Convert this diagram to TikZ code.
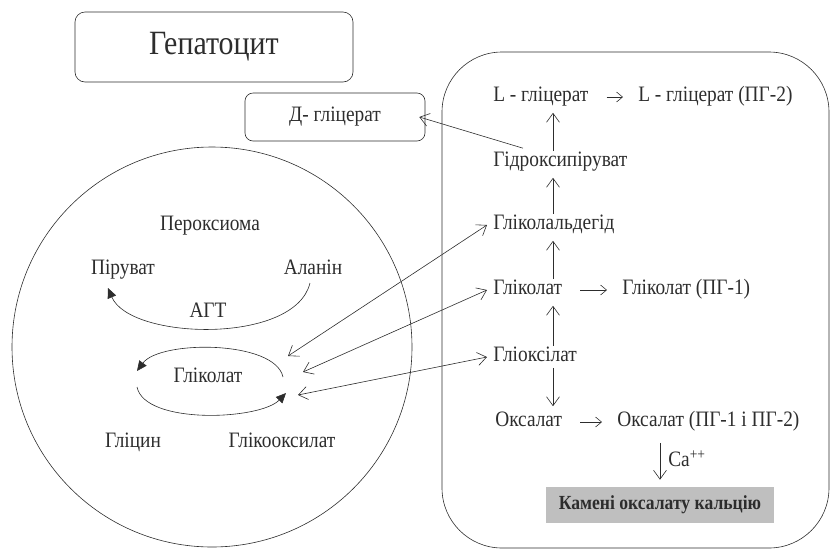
\documentclass[tikz,border=0pt]{standalone}
\usepackage{fontspec}
\setmainfont[FakeStretch=0.88]{Liberation Serif}
\usetikzlibrary{arrows.meta,positioning,calc}
\definecolor{stonegray}{RGB}{191,191,191}
\definecolor{inkgray}{RGB}{45,45,45}

\tikzset{
  lbl/.style={inner sep=0pt,text height=14pt,text depth=5pt,font=\fontsize{22}{24}\selectfont},
  item/.style={lbl,anchor=west},
  barb/.style={-{Straight Barb[length=9pt,width=13pt]}},
  dbarb/.style={{Straight Barb[length=9pt,width=13pt]}-{Straight Barb[length=9pt,width=13pt]}},
  sbarb/.style={-{Straight Barb[length=6pt,width=10pt]},shorten <=18pt,shorten >=15pt},
  vbarb/.style={barb,shorten <=1pt,shorten >=6pt},
  tri/.style={-{Triangle[length=10pt,width=9pt]}},
}

\begin{document}
\begin{tikzpicture}[x=1pt,y=-1pt,line width=0.6pt,draw=inkgray,text=inkgray]
\useasboundingbox (0,0) rectangle (831,550);
% cell, peroxisome and cytosol
\node[draw,rounded corners=10pt,minimum width=278pt,minimum height=70pt,
  font=\fontsize{34}{36}\selectfont] (hep) at (214,47) {Гепатоцит};
\node[draw,rounded corners=8pt,minimum width=180pt,minimum height=48pt,lbl] (dgly) at (335,117) {Д- гліцерат};
\draw[rounded corners=60pt] (442,52) rectangle (829,548);
\draw (212,347) circle[radius=200];

% inside the peroxisome
\node[lbl] (perox) at (210,226) {Пероксиома};
\node[lbl] (pyr) at (123,270) {Піруват};
\node[lbl] (ala) at (313,270) {Аланін};
\node[lbl] (agt) at (208,313) {АГТ};
\node[lbl] (glc) at (208,378) {Гліколат};
\node[lbl] (gly) at (133,443) {Гліцин};
\node[lbl] (gox) at (282,443) {Глікооксилат};
\coordinate (lp1) at (288,356);
\coordinate (lp2) at (303,372);
\coordinate (lp3) at (298,395);

\draw[tri] (310,283) .. controls (295,345) and (130,340) .. (108,288);
\draw[tri] (283,377) .. controls (275,340) and (160,340) .. (137,371);
\draw[tri] (137,387) .. controls (145,425) and (260,420) .. (286,393);

% cytosol pathway
\coordinate (col) at (553,0);
\node[item] (lgly) at (493,97) {L - гліцерат};
\node[item] (lgly2) at (638,97) {L - гліцерат (ПГ-2)};
\node[item] (hpyr) at (493,162) {Гідроксипіруват};
\node[item] (gald) at (493,225) {Гліколальдегід};
\node[item] (glc2) at (493,290) {Гліколат};
\node[item] (glc3) at (622,290) {Гліколат (ПГ-1)};
\node[item] (gxl) at (493,357) {Гліоксілат};
\node[item] (oxa) at (495,422) {Оксалат};
\node[item] (oxa2) at (617,422) {Оксалат (ПГ-1 і ПГ-2)};
\node[fill=stonegray,minimum width=228pt,minimum height=36pt,inner sep=0pt,
  font=\fontsize{20}{22}\selectfont\bfseries] (stone) at (660,505) {Камені оксалату кальцію};

\draw[sbarb] (lgly.east) -- (lgly2.west);
\draw[sbarb] (glc2.east) -- (glc3.west);
\draw[sbarb] (oxa.east) -- (oxa2.west);
\draw[vbarb] (hpyr.north -| col) -- (lgly.south -| col);
\draw[vbarb] (gald.north -| col) -- (hpyr.south -| col);
\draw[vbarb] (glc2.north -| col) -- (gald.south -| col);
\draw[vbarb] (gxl.north -| col) -- (glc2.south -| col);
\draw[vbarb] (gxl.south -| col) -- (oxa.north -| col);
\draw[barb,shorten <=11pt,shorten >=7pt] (oxa2.south -| stone.north) -- (stone.north)
  node[midway,right,xshift=8pt,yshift=-3pt,lbl] (ca) {Ca\textsuperscript{++}};

% exchange between compartments
\draw[barb] ([xshift=30pt,yshift=4pt]hpyr.north west) -- ([xshift=-6pt]dgly.east);
\draw[dbarb] ([xshift=-6pt]gald.west) -- (lp1);
\draw[dbarb] ([xshift=-6pt]glc2.west) -- (lp2);
\draw[dbarb] ([xshift=-6pt]gxl.west) -- (lp3);
\end{tikzpicture}
\end{document}
